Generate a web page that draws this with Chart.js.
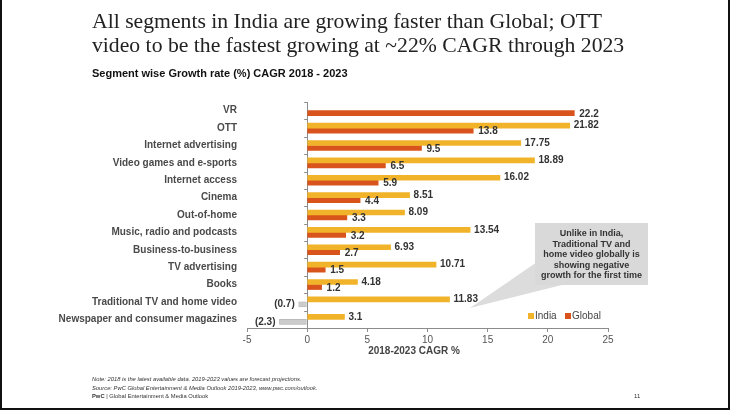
<!DOCTYPE html>
<html lang="en">
<head>
    <meta charset="UTF-8">
    <title>Segment wise Growth rate CAGR 2018 - 2023</title>
    <script src="https://cdn.jsdelivr.net/npm/chart.js"></script>
    <style>
        body {
            margin: 0;
            padding: 0;
            background: #fff;
            font-family: 'Liberation Sans', Arial, sans-serif;
            color: #222;
        }
        .page {
            position: relative;
            width: 730px;
            height: 410px;
            box-sizing: border-box;
            border-left: 2px solid #111;
            border-right: 2px solid #111;
            border-bottom: 2px solid #111;
            overflow: hidden;
        }
        canvas { position: absolute; left: 0; top: 0; }
        .headline {
            position: absolute;
            left: 90px;
            top: 9px;
            font-family: 'Liberation Serif', 'Times New Roman', serif;
            font-size: 21.7px;
            line-height: 24px;
            color: #222;
            white-space: nowrap;
        }
        .subtitle {
            position: absolute;
            left: 90px;
            top: 67px;
            font-size: 11px;
            font-weight: bold;
            color: #111;
        }
        .axis-title {
            position: absolute;
            left: 352px;
            width: 120px;
            top: 345px;
            text-align: center;
            font-size: 10px;
            font-weight: bold;
            color: #444;
        }
        .callout-text {
            position: absolute;
            left: 533px;
            top: 228px;
            width: 113px;
            text-align: center;
            font-size: 9px;
            line-height: 10.5px;
            font-weight: bold;
            color: #333;
        }
        .legend {
            position: absolute;
            top: 310px;
            left: 526px;
            font-size: 10px;
            color: #444;
            white-space: nowrap;
        }
        .legend span.box {
            display: inline-block;
            width: 6px;
            height: 6px;
            margin-right: 1px;
        }
        .notes {
            position: absolute;
            left: 90px;
            top: 375px;
            font-size: 5.8px;
            line-height: 8.7px;
            color: #333;
        }
        .notes i { font-style: italic; }
        .pageno {
            position: absolute;
            left: 632px;
            top: 393px;
            font-size: 6px;
            color: #333;
        }
    </style>
</head>
<body>
<div class="page">
    <canvas id="cagrChart" width="730" height="410"></canvas>
    <svg width="730" height="410" style="position:absolute;left:0;top:0;">
        <polygon points="535,262 468,308 560,285" fill="#dcdcdc"/>
        <rect x="533" y="223" width="113" height="62" fill="#d9d9d9"/>
    </svg>
    <div class="headline">All segments in India are growing faster than Global; OTT<br>video to be the fastest growing at ~22% CAGR through 2023</div>
    <div class="subtitle">Segment wise Growth rate (%) CAGR 2018 - 2023</div>
    <div class="axis-title">2018-2023 CAGR %</div>
    <div class="callout-text">Unlike in India,<br>Traditional TV and<br>home video globally is<br>showing negative<br>growth for the first time</div>
    <div class="legend" id="legend"></div>
    <div class="notes">
        <i>Note: 2018 is the latest available data. 2019-2023 values are forecast projections.</i><br>
        <i>Source: PwC Global Entertainment &amp; Media Outlook 2019-2023, www.pwc.com/outlook.</i><br>
        <b>PwC</b> | Global Entertainment &amp; Media Outlook
    </div>
    <div class="pageno">11</div>
</div>

<script>
    // Chart data
    const segments = [
        'VR', 'OTT', 'Internet advertising', 'Video games and e-sports',
        'Internet access', 'Cinema', 'Out-of-home', 'Music, radio and podcasts',
        'Business-to-business', 'TV advertising', 'Books',
        'Traditional TV and home video', 'Newspaper and consumer magazines'
    ];
    const indiaCagr = [null, 21.82, 17.75, 18.89, 16.02, 8.51, 8.09, 13.54, 6.93, 10.71, 4.18, 11.83, 3.1];
    const globalCagr = [22.2, 13.8, 9.5, 6.5, 5.9, 4.4, 3.3, 3.2, 2.7, 1.5, 1.2, -0.7, -2.3];
    const xTicks = [-5, 0, 5, 10, 15, 20, 25];

    const indiaColor = '#f0b32a';
    const globalColor = '#d9541c';
    const negColor = '#cbcbcb';
    const axisColor = '#8c8c8c';

    // legend (html)
    document.getElementById('legend').innerHTML =
        `<span class="box" style="background:${indiaColor}"></span>India&nbsp;&nbsp;&nbsp;` +
        `<span class="box" style="background:${globalColor}"></span>Global`;

    const fmt = v => v < 0 ? '(' + Math.abs(v) + ')' : String(v);

    // value labels next to bar ends
    const barLabels = {
        id: 'barLabels',
        afterDatasetsDraw(chart) {
            const ctx = chart.ctx;
            ctx.save();
            ctx.font = 'bold 10px "Liberation Sans", Arial, sans-serif';
            ctx.fillStyle = '#333';
            ctx.textBaseline = 'middle';
            chart.data.datasets.forEach((ds, di) => {
                chart.getDatasetMeta(di).data.forEach((bar, i) => {
                    const v = ds.data[i];
                    if (v === null || v === undefined) return;
                    if (v < 0) {
                        ctx.textAlign = 'right';
                        ctx.fillText(fmt(v), bar.x - 4, bar.y);
                    } else {
                        ctx.textAlign = 'left';
                        ctx.fillText(fmt(v), bar.x + (di === 0 ? 4 : 5), bar.y + (di === 0 ? 0 : 1));
                    }
                });
            });
            ctx.restore();
        }
    };

    // small tick marks on the zero line between categories
    const zeroTicks = {
        id: 'zeroTicks',
        afterDraw(chart) {
            const ctx = chart.ctx;
            const x0 = chart.scales.x.getPixelForValue(0);
            const ys = chart.scales.y;
            const step = ys.getPixelForValue(1) - ys.getPixelForValue(0);
            ctx.save();
            ctx.strokeStyle = axisColor;
            ctx.lineWidth = 1;
            for (let i = 0; i <= segments.length; i++) {
                const y = ys.getPixelForValue(0) - step / 2 + i * step;
                ctx.beginPath();
                ctx.moveTo(x0 - 3, Math.round(y) + 0.5);
                ctx.lineTo(x0, Math.round(y) + 0.5);
                ctx.stroke();
            }
            ctx.restore();
        }
    };

    new Chart(document.getElementById('cagrChart'), {
        type: 'bar',
        data: {
            labels: segments,
            datasets: [
                {
                    label: 'India',
                    data: indiaCagr,
                    backgroundColor: indiaColor,
                    barThickness: 5
                },
                {
                    label: 'Global',
                    data: globalCagr,
                    backgroundColor: globalCagr.map(v => v < 0 ? negColor : globalColor),
                    borderColor: globalCagr.map(v => v < 0 ? '#a8a8a8' : globalColor),
                    borderWidth: globalCagr.map(v => v < 0 ? 0.6 : 0),
                    barThickness: 5
                }
            ]
        },
        options: {
            indexAxis: 'y',
            responsive: false,
            animation: false,
            layout: { padding: { top: 102, right: 124, left: 0, bottom: 0 } },
            plugins: {
                legend: { display: false },
                tooltip: { enabled: false }
            },
            scales: {
                y: {
                    afterFit(scale) { scale.width = 245; },
                    grid: { display: false },
                    border: { display: false },
                    ticks: {
                        autoSkip: false,
                        padding: 2,
                        color: '#4a4a4a',
                        font: { family: '"Liberation Sans", Arial, sans-serif', size: 10, weight: 'bold' }
                    }
                },
                x: {
                    min: xTicks[0],
                    max: xTicks[xTicks.length - 1],
                    afterFit(scale) { scale.height = 82; },
                    afterBuildTicks(scale) { scale.ticks = xTicks.map(v => ({ value: v })); },
                    grid: {
                        color: c => (c.tick && c.tick.value === 0) ? axisColor : 'rgba(0,0,0,0)',
                        tickColor: axisColor,
                        tickLength: 4,
                        lineWidth: 1
                    },
                    border: { color: axisColor },
                    ticks: {
                        padding: 2,
                        color: '#555',
                        font: { family: '"Liberation Sans", Arial, sans-serif', size: 10 }
                    }
                }
            }
        },
        plugins: [barLabels, zeroTicks]
    });
</script>
</body>
</html>
